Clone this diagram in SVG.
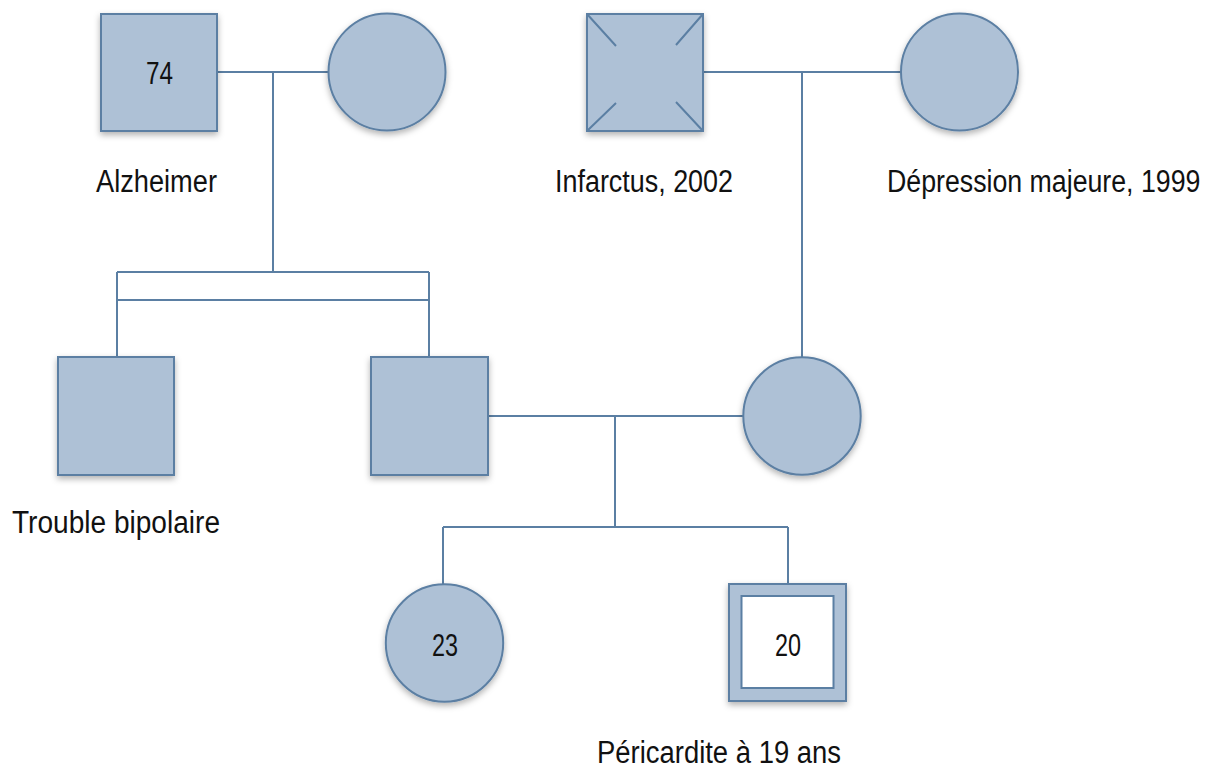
<svg xmlns="http://www.w3.org/2000/svg" width="1212" height="768" viewBox="0 0 1212 768">
<defs>
<filter id="sh" x="-20%" y="-20%" width="140%" height="150%">
<feDropShadow dx="0" dy="3" stdDeviation="3" flood-color="#000" flood-opacity="0.3"/>
</filter>
<style>
.n{fill:#aec1d6;stroke:#5b7fa3;stroke-width:2;filter:url(#sh)}
.in{fill:#fff;stroke:#5b7fa3;stroke-width:2}
.l{fill:none;stroke:#5b7fa3;stroke-width:2}
.t{font-family:"Liberation Sans",Arial,sans-serif;font-size:31px;fill:#111}
</style>
</defs>
<rect width="1212" height="768" fill="#fff"/>
<g id="connectors">
<path class="l" d="M217 72H329M273 72V272M117 272H429M117 300H429M117 272V357M429 272V357"/>
<path class="l" d="M703 72H901M802 72V357"/>
<path class="l" d="M488 416H743M615 416V527M443 527H788M443 527V584M788 527V584"/>
</g>
<g id="n74">
<rect class="n" x="101" y="14" width="116" height="117"/>
<text class="t" x="146" y="83.5" textLength="27" lengthAdjust="spacingAndGlyphs">74</text>
<text class="t" x="96" y="192" textLength="121" lengthAdjust="spacingAndGlyphs">Alzheimer</text>
</g>
<g id="gm1">
<circle class="n" cx="387" cy="72" r="58.5"/>
</g>
<g id="gp2">
<rect class="n" x="587" y="14" width="116" height="117"/>
<path class="l" d="M587 14L616 46M703 14L676 45M587 131L616 103M703 131L676 102"/>
<text class="t" x="555" y="192" textLength="178" lengthAdjust="spacingAndGlyphs">Infarctus, 2002</text>
</g>
<g id="gm2">
<circle class="n" cx="959.5" cy="72" r="58.5"/>
<text class="t" transform="translate(887,192) scale(0.862,1)">Dépression majeure, 1999</text>
</g>
<g id="uncle">
<rect class="n" x="58" y="357" width="116" height="118"/>
<text class="t" x="12" y="533" textLength="208" lengthAdjust="spacingAndGlyphs">Trouble bipolaire</text>
</g>
<g id="father">
<rect class="n" x="371" y="357" width="117" height="118"/>
</g>
<g id="mother">
<circle class="n" cx="802" cy="416" r="58.7"/>
</g>
<g id="sister">
<circle class="n" cx="444.5" cy="643" r="58.7"/>
<text class="t" x="432" y="655.5" textLength="26" lengthAdjust="spacingAndGlyphs">23</text>
</g>
<g id="proband">
<rect class="n" x="729" y="584" width="117" height="117"/>
<rect class="in" x="741.5" y="596" width="92" height="92"/>
<text class="t" x="775" y="655.5" textLength="26" lengthAdjust="spacingAndGlyphs">20</text>
<text class="t" x="597" y="763" textLength="244" lengthAdjust="spacingAndGlyphs">Péricardite à 19 ans</text>
</g>
</svg>
